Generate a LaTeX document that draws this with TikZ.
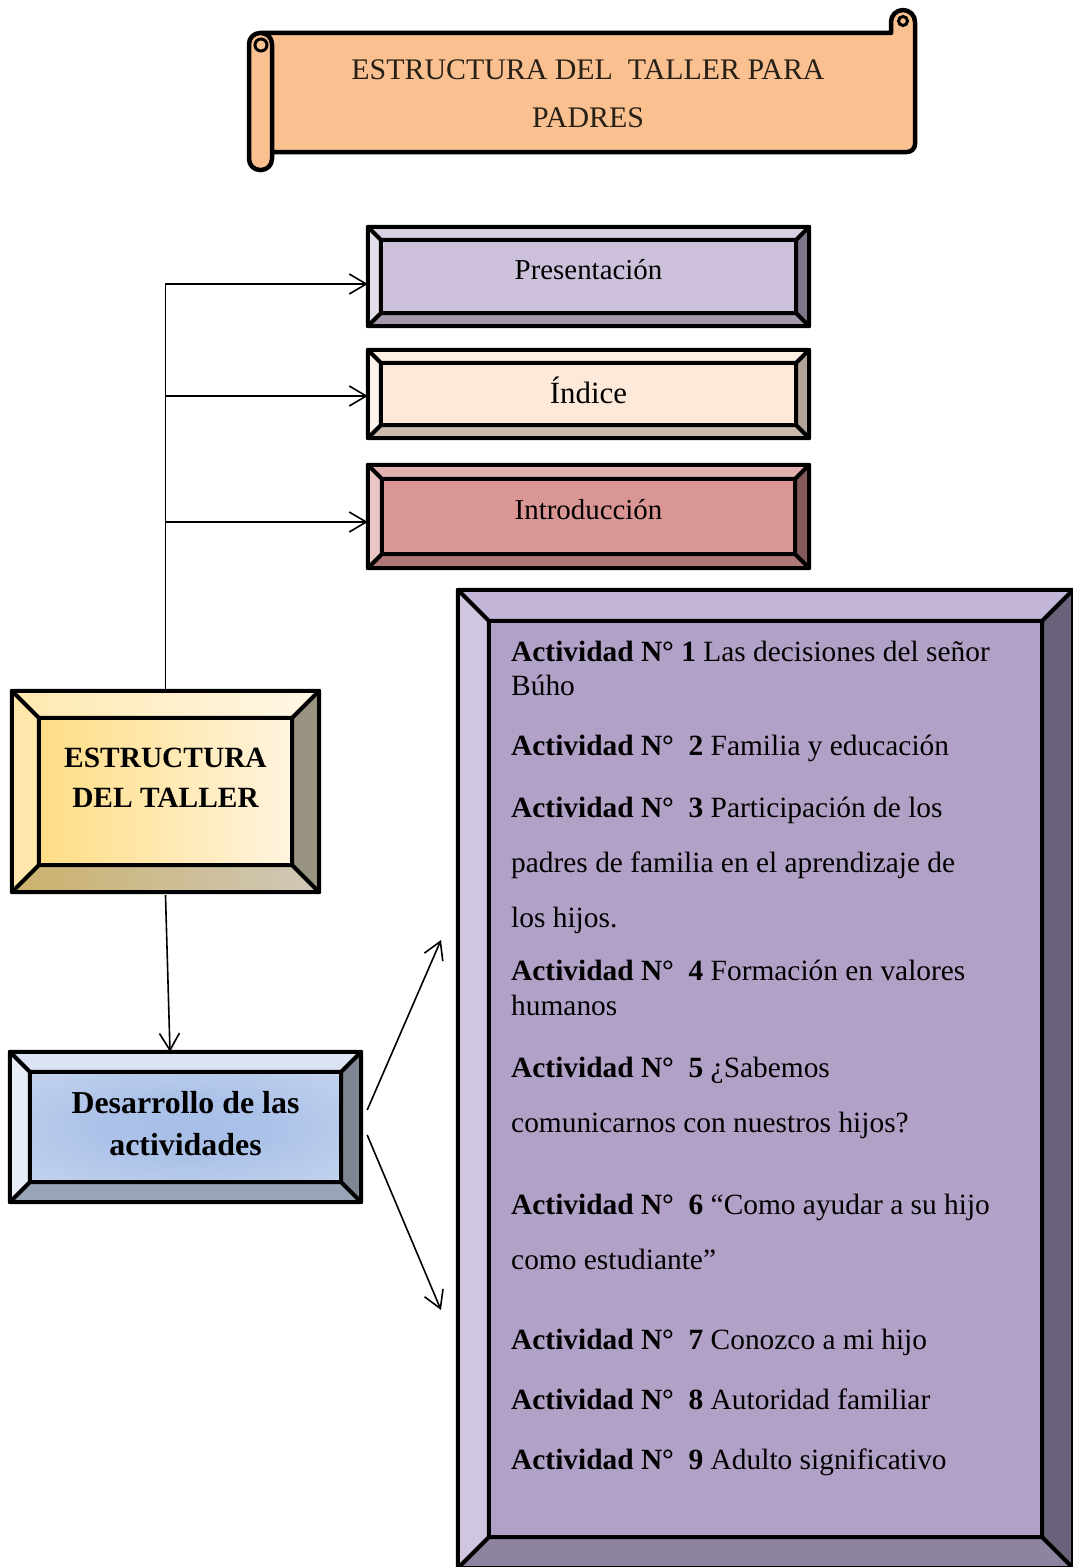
\documentclass[tikz,border=0pt]{standalone}
\usepackage{fontspec}
\setmainfont{Liberation Serif}
\usetikzlibrary{arrows.meta,calc,backgrounds}

\definecolor{pergamino}{HTML}{FAC090}
\definecolor{titcol}{HTML}{262017}
\definecolor{presF}{HTML}{CCC0DA}
\definecolor{presT}{HTML}{D9D0E3}
\definecolor{presL}{HTML}{E3DDEB}
\definecolor{presR}{HTML}{7E7689}
\definecolor{presB}{HTML}{A39AAE}
\definecolor{indF}{HTML}{FDE9D9}
\definecolor{indT}{HTML}{FEEFE3}
\definecolor{indL}{HTML}{FEF4EC}
\definecolor{indR}{HTML}{B1A398}
\definecolor{indB}{HTML}{CBBBAE}
\definecolor{intF}{HTML}{D99694}
\definecolor{intT}{HTML}{E2B0AF}
\definecolor{intL}{HTML}{EAC6C5}
\definecolor{intR}{HTML}{835A59}
\definecolor{intB}{HTML}{AE7876}
\definecolor{estA}{HTML}{FFDD84}
\definecolor{estB}{HTML}{FFF4DF}
\definecolor{estTa}{HTML}{FFE9B0}
\definecolor{estTb}{HTML}{FFF6E6}
\definecolor{estL}{HTML}{FFE7AC}
\definecolor{estR}{HTML}{9A9381}
\definecolor{estBa}{HTML}{CBB16C}
\definecolor{estBb}{HTML}{CFC8B8}
\definecolor{desA}{HTML}{A6BEE7}
\definecolor{desB}{HTML}{DCE5F4}
\definecolor{desT}{HTML}{DCE4F3}
\definecolor{desL}{HTML}{E7EDF7}
\definecolor{desR}{HTML}{7E8593}
\definecolor{desBb}{HTML}{98A4B8}
\definecolor{actF}{HTML}{B2A1C7}
\definecolor{actT}{HTML}{C3B5D7}
\definecolor{actL}{HTML}{D0C6E0}
\definecolor{actR}{HTML}{6A617A}
\definecolor{actB}{HTML}{8F83A2}

\pgfdeclareradialshading{azul}{\pgfpoint{0bp}{0bp}}{color(0bp)=(desA); color(14bp)=(desA!90!desB); color(36bp)=(desA!45!desB); color(52bp)=(desB); color(100bp)=(desB)}

% caja biselada alrededor de un nodo: #1 nodo, #2 bisel, #3 cara, #4 arriba, #5 izq, #6 der, #7 abajo
\newcommand{\bisel}[7]{%
  \begin{scope}[on background layer]
    \path[#3] ($(#1.north west)+(#2,#2)$) rectangle ($(#1.south east)+(-#2,-#2)$);
    \path[#4] (#1.north west) -- (#1.north east) -- ($(#1.north east)+(-#2,#2)$) -- ($(#1.north west)+(#2,#2)$) -- cycle;
    \path[#5] (#1.north west) -- ($(#1.north west)+(#2,#2)$) -- ($(#1.south west)+(#2,-#2)$) -- (#1.south west) -- cycle;
    \path[#6] (#1.north east) -- (#1.south east) -- ($(#1.south east)+(-#2,-#2)$) -- ($(#1.north east)+(-#2,#2)$) -- cycle;
    \path[#7] (#1.south west) -- (#1.south east) -- ($(#1.south east)+(-#2,-#2)$) -- ($(#1.south west)+(#2,-#2)$) -- cycle;
    \draw[borde] (#1.north west) rectangle (#1.south east)
      ($(#1.north west)+(#2,#2)$) rectangle ($(#1.south east)+(-#2,-#2)$)
      (#1.north west) -- ++(#2,#2) (#1.north east) -- ++(-#2,#2)
      (#1.south west) -- ++(#2,-#2) (#1.south east) -- ++(-#2,-#2);
  \end{scope}}

\tikzset{
  rollo/.style={draw, line width=4.5bp, fill=pergamino, line join=round},
  borde/.style={draw, line width=4bp, line join=round},
  caja/.style={inner sep=0pt, font=\fontsize{29}{34}\selectfont},
  negrita/.style={inner sep=0pt, align=center, font=\fontsize{29.5}{40}\selectfont\bfseries},
  linea/.style={anchor=base west, inner sep=0pt, font=\fontsize{29.5}{34}\selectfont},
  titulo/.style={align=center, inner sep=0pt, text=titcol, font=\fontsize{30}{48}\selectfont},
  conector/.style={->, line width=1.6bp}
}

\begin{document}
\begin{tikzpicture}[>={Straight Barb[length=17bp,width=20bp]}, x=1bp, y=-1bp]
  \useasboundingbox (0,0) rectangle (1072,1567);

  % pergamino del titulo
  \draw[rollo] (262,33) -- (891,33) -- (891,22) arc (180:360:12) -- (915,144) arc (0:90:8) -- (262,152) -- cycle;
  \draw[line width=3bp] (891,22) -- (891,33);
  \draw[line width=3bp, fill=pergamino] (903,21) circle (4.5);
  \draw[rollo, rounded corners=11bp] (249,33) rectangle (272,170);
  \draw[line width=3bp, fill=pergamino] (261,45) circle (6);
  \node[titulo] (tit) at (588,94) {ESTRUCTURA DEL\ \ TALLER PARA\\PADRES};

  % cajas
  \node[caja, minimum width=441bp, minimum height=99bp, text height=20bp, text depth=14bp] (pres) at (588.5,276.5) {Presentación};
  \bisel{pres}{13}{fill=presF}{fill=presT}{fill=presL}{fill=presR}{fill=presB}
  \node[caja, font=\fontsize{31}{36}\selectfont, minimum width=441bp, minimum height=88bp, text height=25bp, text depth=7bp] (ind) at (588.5,394) {Índice};
  \bisel{ind}{13}{fill=indF}{fill=indT}{fill=indL}{fill=indR}{fill=indB}
  \node[caja, minimum width=441bp, minimum height=103bp, text height=20bp, text depth=15bp] (int) at (588.5,516.5) {Introducción};
  \bisel{int}{14}{fill=intF}{fill=intT}{fill=intL}{fill=intR}{fill=intB}

  \node[negrita, minimum width=307bp, minimum height=201bp, text height=60bp, text depth=29bp] (est) at (165.5,791.5) {ESTRUCTURA\\DEL TALLER};
  \bisel{est}{27}{left color=estA, right color=estB}{left color=estTa, right color=estTb}{fill=estL}{fill=estR}{left color=estBa, right color=estBb}

  \node[negrita, font=\fontsize{32}{42}\selectfont\bfseries, minimum width=351bp, minimum height=150bp, text height=64bp, text depth=8bp] (des) at (185.5,1127) {Desarrollo de las\\actividades};
  \bisel{des}{20}{shading=azul}{fill=desT}{fill=desL}{fill=desR}{fill=desBb}

  \node[inner sep=0pt, minimum width=615bp, minimum height=978bp] (act) at (765.5,1079) {};
  \bisel{act}{31}{fill=actF}{fill=actT}{fill=actL}{fill=actR}{fill=actB}

  % actividades
  \node[linea] (a1) at (511,661) {\textbf{Actividad N° 1} Las decisiones del señor};
  \node[linea] (a1b) at (511,695) {Búho};
  \node[linea] (a2) at (511,755) {\textbf{Actividad N°\ \ 2} Familia y educación};
  \node[linea] (a3) at (511,817) {\textbf{Actividad N°\ \ 3} Participación de los};
  \node[linea] (a3b) at (511,872) {padres de familia en el aprendizaje de};
  \node[linea] (a3c) at (511,927) {los hijos.};
  \node[linea] (a4) at (511,980) {\textbf{Actividad N°\ \ 4} Formación en valores};
  \node[linea] (a4b) at (511,1015) {humanos};
  \node[linea] (a5) at (511,1077) {\textbf{Actividad N°\ \ 5} ¿Sabemos};
  \node[linea] (a5b) at (511,1132) {comunicarnos con nuestros hijos?};
  \node[linea] (a6) at (511,1214) {\textbf{Actividad N°\ \ 6} “Como ayudar a su hijo};
  \node[linea] (a6b) at (511,1269) {como estudiante”};
  \node[linea] (a7) at (511,1349) {\textbf{Actividad N°\ \ 7} Conozco a mi hijo};
  \node[linea] (a8) at (511,1409) {\textbf{Actividad N°\ \ 8} Autoridad familiar};
  \node[linea] (a9) at (511,1469) {\textbf{Actividad N°\ \ 9} Adulto significativo};

  % conectores
  \coordinate (pp) at ([yshift=-7.5bp]pres.west);
  \coordinate (pi) at ([yshift=-2bp]ind.west);
  \coordinate (pn) at ([yshift=-5.5bp]int.west);
  \coordinate (pd) at ([xshift=-15.5bp]des.north);
  \coordinate (f1) at (441,940);
  \coordinate (f2) at (441,1310);
  \draw[conector] (est.north) |- (pp);
  \draw[conector] (est.north |- pi) -- (pi);
  \draw[conector] (est.north |- pn) -- (pn);
  \draw[conector] ([yshift=-3bp]est.south) -- (pd);
  \draw[conector] ([xshift=6bp,yshift=17bp]des.east) -- (f1);
  \draw[conector] ([xshift=6bp,yshift=-8bp]des.east) -- (f2);
\end{tikzpicture}
\end{document}
